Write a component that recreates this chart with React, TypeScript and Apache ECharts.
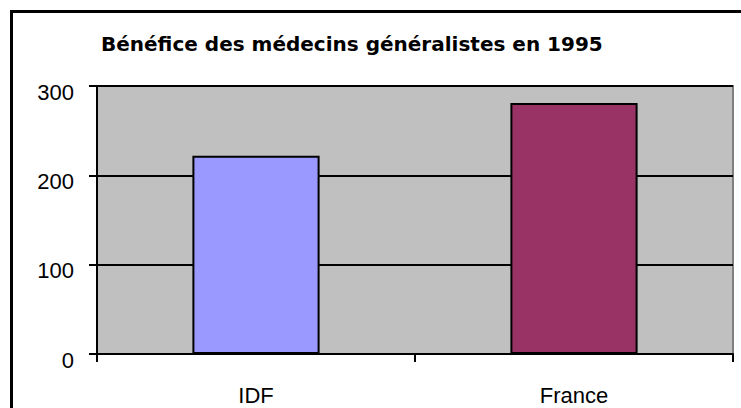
import React, { useEffect, useRef } from "react";
import * as echarts from "echarts";

const titleText = "Bénéfice des médecins généralistes en 1995";
const categories = ["IDF", "France"];
const values = [222, 281];
const barColors = ["#9999FF", "#993366"];
const yMin = 0;
const yMax = 300;
const yInterval = 100;

export default function App() {
  const ref = useRef<HTMLDivElement>(null);
  useEffect(() => {
    if (!ref.current) return;
    const chart = echarts.init(ref.current, undefined, { renderer: "svg" });
    const font = "'Liberation Sans', Arial, sans-serif";
    chart.setOption({
      animation: false,
      backgroundColor: "#ffffff",
      title: {
        text: titleText,
        left: 96,
        top: 29,
        textStyle: { fontFamily: "'DejaVu Sans', sans-serif", fontSize: 20, fontWeight: "bold", color: "#000" },
      },
      grid: {
        left: 97,
        right: 8,
        top: 86,
        bottom: 54,
        show: true,
        backgroundColor: "#C0C0C0",
        borderColor: "#808080",
        borderWidth: 2,
      },
      xAxis: {
        type: "category",
        data: categories,
        axisLine: { lineStyle: { color: "#000", width: 2 } },
        axisTick: { show: true, length: 8, lineStyle: { color: "#000", width: 2 } },
        axisLabel: { fontFamily: font, fontSize: 22, color: "#000", margin: 30 },
        splitLine: { show: false },
      },
      yAxis: {
        type: "value",
        min: yMin,
        max: yMax,
        interval: yInterval,
        axisLine: { show: true, lineStyle: { color: "#000", width: 2 } },
        axisTick: { show: true, length: 8, lineStyle: { color: "#000", width: 2 } },
        axisLabel: { fontFamily: font, fontSize: 22, color: "#000", margin: 23, verticalAlign: "top", padding: [-5, 0, 0, 0] },
        splitLine: { show: true, lineStyle: { color: "#000", width: 2 } },
      },
      series: [
        {
          type: "bar",
          barWidth: "40%",
          data: values.map((v, i) => ({
            value: v,
            itemStyle: { color: barColors[i], borderColor: "#000", borderWidth: 2 },
          })),
        },
      ],
      graphic: [
        {
          type: "rect",
          shape: { x: 11.5, y: 11.5, width: 800, height: 500 },
          style: { fill: "none", stroke: "#000", lineWidth: 3 },
          z: 100,
        },
      ],
    });
    return () => chart.dispose();
  }, []);
  return (
    <div
      ref={ref}
      style={{ position: "fixed", left: 0, top: 0, width: 741, height: 408 }}
    />
  );
}
